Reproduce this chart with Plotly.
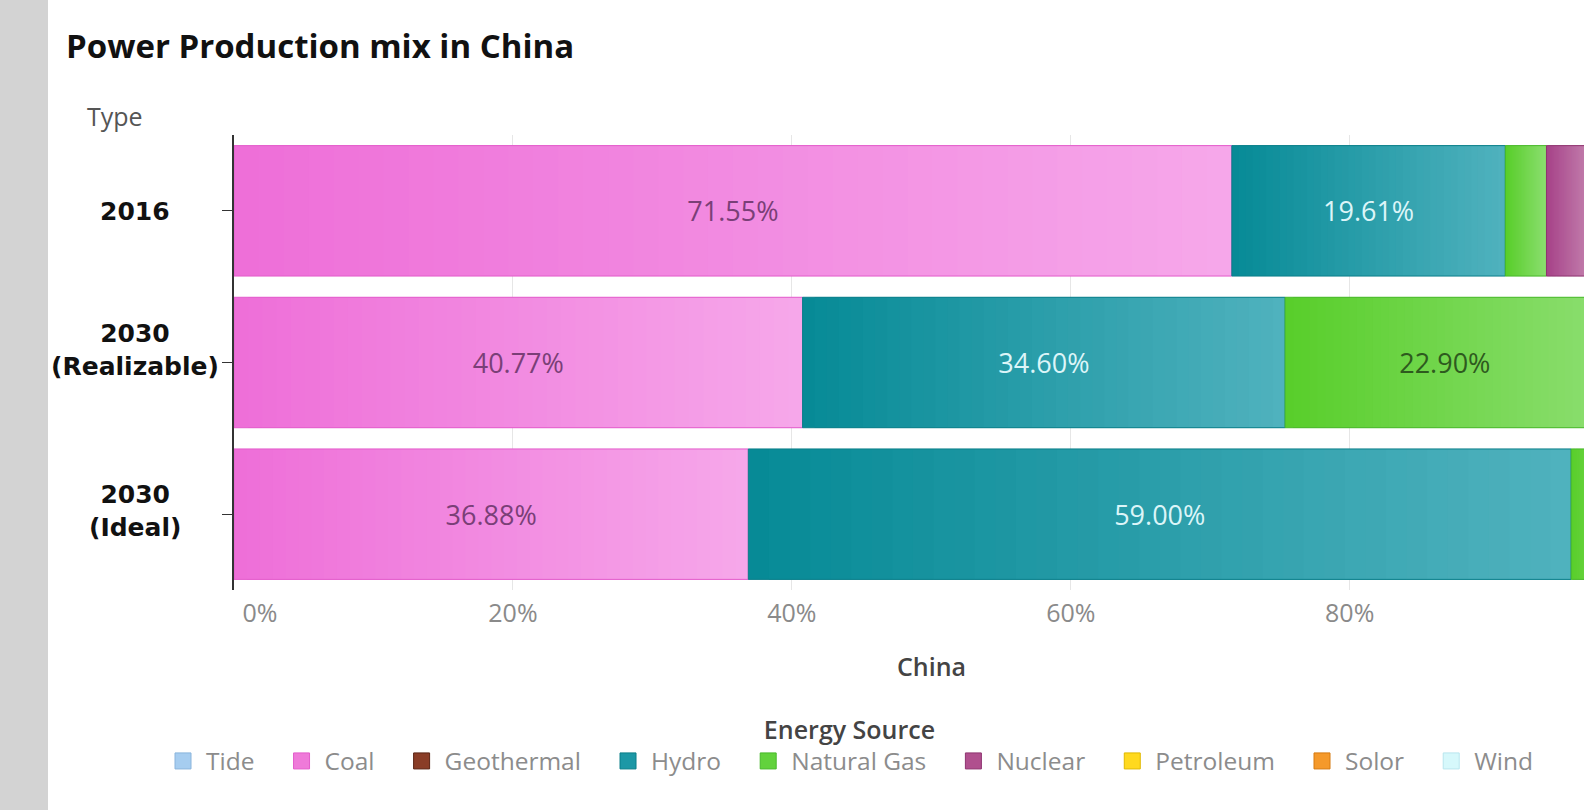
import plotly.graph_objects as go

# ---- data -------------------------------------------------------------
years = ["2016", "2030 (Realizable)", "2030 (Ideal)"]
year_lines = [["2016"], ["2030", "(Realizable)"], ["2030", "(Ideal)"]]

sources = ["Tide", "Coal", "Geothermal", "Hydro", "Natural Gas",
           "Nuclear", "Petroleum", "Solor", "Wind"]

tide = [0.0, 0.0, 0.0]
coal = [71.55, 40.77, 36.88]
geothermal = [0.0, 0.0, 0.0]
hydro = [19.61, 34.60, 59.00]
natural_gas = [2.95, 22.90, 4.12]
nuclear = [3.56, 1.73, 0.0]
petroleum = [0.0, 0.0, 0.0]
solor = [0.0, 0.0, 0.0]
wind = [2.33, 0.0, 0.0]

tick_vals = [0, 20, 40, 60, 80, 100]

values = {
    "Tide": tide, "Coal": coal, "Geothermal": geothermal, "Hydro": hydro,
    "Natural Gas": natural_gas, "Nuclear": nuclear, "Petroleum": petroleum,
    "Solor": solor, "Wind": wind,
}

# ---- styling ----------------------------------------------------------
# left -> right gradient colour of each segment, plus legend swatch / outline
gradient = {
    "Tide": ((150, 196, 236), (190, 218, 245)),
    "Coal": ((238, 110, 216), (246, 168, 234)),
    "Geothermal": ((125, 55, 35), (160, 85, 60)),
    "Hydro": ((6, 138, 150), (80, 178, 190)),
    "Natural Gas": ((88, 206, 42), (140, 222, 112)),
    "Nuclear": ((166, 66, 136), (200, 138, 180)),
    "Petroleum": ((255, 214, 20), (255, 230, 110)),
    "Solor": ((245, 150, 30), (250, 185, 90)),
    "Wind": ((210, 246, 252), (232, 252, 254)),
}
swatch = {
    "Tide": "#a6cdf0", "Coal": "#ef7ad9", "Geothermal": "#8a3d27",
    "Hydro": "#1c98a6", "Natural Gas": "#62d23c", "Nuclear": "#b0508e",
    "Petroleum": "#ffd91f", "Solor": "#f5992a", "Wind": "#d6f8fb",
}
outline = {
    "Tide": "#8ab4dc", "Coal": "#e35ccb", "Geothermal": "#5a2414",
    "Hydro": "#0b7f8a", "Natural Gas": "#48b82a", "Nuclear": "#8f3470",
    "Petroleum": "#e0b800", "Solor": "#d67a10", "Wind": "#b8e6ee",
}
label_color = {
    "Coal": "#7a3f77", "Hydro": "#dcf5f8", "Natural Gas": "#2e5a1e",
    "Nuclear": "#f4e4f0",
}
label_y_shift = [-1, 13, 3]
LEGEND_PAD = "\u00a0" * 3

N_SLICES = 40
W, H = 1584, 810
M_L, M_R, M_T, M_B = 234, 0, 135, 220
X_MAX = 96.8  # right edge of the visible scale
TXT = 25

fig = go.Figure()


def mix(c0, c1, t):
    return "rgb(%d,%d,%d)" % tuple(round(a + (b - a) * t) for a, b in zip(c0, c1))


# stacked starting points built from the values
starts = {}
running = [0.0] * len(years)
for s in sources:
    starts[s] = list(running)
    running = [r + v for r, v in zip(running, values[s])]

for s in sources:
    vals = values[s]
    if not any(v > 0 for v in vals):
        continue
    c0, c1 = gradient[s]
    # gradient body: thin slices of each segment, shaded left to right;
    # each slice runs under the next one so no seams show between them
    xs, ys, bases, cols = [], [], [], []
    for yi, y in enumerate(years):
        v = vals[yi]
        if v <= 0:
            continue
        step = v / N_SLICES
        for k in range(N_SLICES):
            xs.append(step * (2.0 if k < N_SLICES - 1 else 1.0))
            ys.append(y)
            bases.append(starts[s][yi] + k * step)
            cols.append(mix(c0, c1, (k + 0.5) / N_SLICES))
    fig.add_trace(go.Bar(
        x=xs, y=ys, base=bases, orientation="h",
        marker=dict(color=cols, line=dict(width=0)),
        showlegend=False, hoverinfo="skip",
    ))
    # outline + value label for the whole segment
    fig.add_trace(go.Bar(
        x=vals, y=years, base=starts[s], orientation="h",
        marker=dict(color="rgba(0,0,0,0)", line=dict(color=outline[s], width=1)),
        text=[f"{v:.2f}%" if v >= 10 else "" for v in vals],
        textposition="inside", insidetextanchor="middle",
        textfont=dict(family="Open Sans", size=27, color=label_color.get(s, "#333")),
        showlegend=False, name=s,
    ))

# legend swatches
for i, s in enumerate(sources):
    fig.add_trace(go.Scatter(
        x=[None], y=[None], mode="markers",
        name=s + (LEGEND_PAD if i < len(sources) - 1 else ""),
        marker=dict(symbol="square", size=16, color=swatch[s],
                    line=dict(color=outline[s], width=1)),
    ))

plot_w = W - M_L - M_R
plot_h = H - M_T - M_B

annotations = []
for yi, lines in enumerate(year_lines):
    annotations.append(dict(
        text="<br>".join(f"<b>{ln}</b>" for ln in lines),
        xref="paper", x=0, xanchor="center", xshift=-99,
        yref="y", y=yi, yanchor="middle", yshift=label_y_shift[yi],
        showarrow=False, align="center",
        font=dict(family="DejaVu Sans", size=TXT, color="#111111"),
    ))
annotations.append(dict(
    text="Type", xref="paper", x=0, xanchor="left", xshift=-149,
    yref="paper", y=1, yanchor="middle", yshift=19, showarrow=False,
    font=dict(family="Open Sans", size=TXT, color="#555555"),
))
annotations.append(dict(
    text="China", xref="x", x=50, xanchor="center",
    yref="paper", y=0, yanchor="middle", yshift=-76, showarrow=False,
    font=dict(family="Open Sans", size=TXT, color="#444444", weight=600),
))

fig.update_layout(
    width=W, height=H,
    margin=dict(l=M_L, r=M_R, t=M_T, b=M_B, pad=0),
    paper_bgcolor="white", plot_bgcolor="white",
    barmode="overlay", bargap=0.14,
    title=dict(
        text="<b>Power Production mix in China</b>",
        xref="container", x=66 / W, xanchor="left",
        yref="container", y=1 - 46 / H, yanchor="middle",
        font=dict(family="Open Sans", size=33, color="#111111"),
    ),
    xaxis=dict(
        range=[0, X_MAX], tickvals=tick_vals,
        ticktext=[("\u00a0" * 8 + f"{v}%") if v == 0 else f"{v}%" for v in tick_vals],
        showgrid=True, gridcolor="#e6e6e6", gridwidth=1,
        zeroline=False, showline=False, ticks="",
        tickfont=dict(family="Open Sans", size=TXT, color="#8a8a8a"),
        ticklabelstandoff=6,
    ),
    yaxis=dict(
        type="category",
        categoryorder="array", categoryarray=years, autorange="reversed",
        showticklabels=False, ticks="outside", ticklen=10, tickcolor="#333333",
        showline=True, linecolor="#333333", linewidth=1.5,
        showgrid=False, zeroline=False,
    ),
    legend=dict(
        orientation="h", x=(160 - M_L) / plot_w, xanchor="left",
        y=-(706 - (H - M_B)) / plot_h, yanchor="top",
        itemwidth=36,
        title=dict(text="Energy Source", side="top center",
                   font=dict(family="Open Sans", size=TXT, color="#444444", weight=600)),
        font=dict(family="Open Sans", size=24.5, color="#8c8c8c"),
        itemclick=False, itemdoubleclick=False,
    ),
    annotations=annotations,
    shapes=[dict(
        type="rect", xref="paper", yref="paper", layer="below",
        x0=-M_L / plot_w, x1=-(M_L - 48) / plot_w,
        y0=-M_B / plot_h, y1=1 + M_T / plot_h,
        fillcolor="#d3d3d3", line=dict(width=0),
    )],
)

fig.write_html("out.html")
